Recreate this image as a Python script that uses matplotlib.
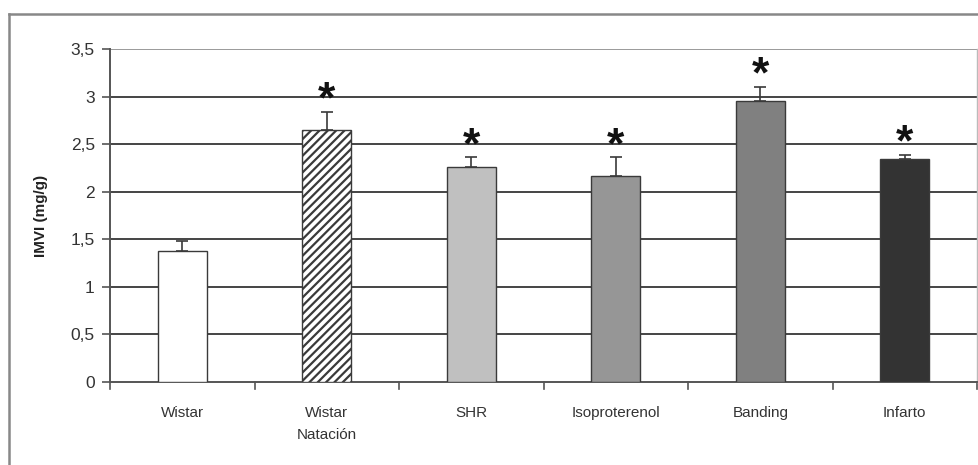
import matplotlib
matplotlib.use("Agg")
import matplotlib.pyplot as plt
from matplotlib.lines import Line2D

plt.rcParams['font.family'] = ['Liberation Sans', 'DejaVu Sans']
plt.rcParams['hatch.linewidth'] = 1.6

categories = ["Wistar", "Wistar\nNatación", "SHR", "Isoproterenol", "Banding", "Infarto"]
values = [1.38, 2.65, 2.26, 2.17, 2.95, 2.34]
errors = [0.10, 0.19, 0.10, 0.19, 0.15, 0.05]
significant = [False, True, True, True, True, True]
colors = ["#ffffff", "#ffffff", "#c0c0c0", "#969696", "#808080", "#333333"]
hatches = ["", "////", "", "", "", ""]
yticks = [0, 0.5, 1, 1.5, 2, 2.5, 3, 3.5]
ytick_labels = ["0", "0,5", "1", "1,5", "2", "2,5", "3", "3,5"]

fig = plt.figure(figsize=(9.79, 4.65), dpi=100)
ax = fig.add_axes([0.1124, 0.1785, 0.8856, 0.7161])

x = list(range(len(categories)))
ax.set_xlim(-0.5, len(categories) - 0.5)
ax.set_ylim(0, 3.5)

for yt in yticks[1:]:
    ax.axhline(yt, color="#444444" if yt < 3.5 else "#9a9a9a", lw=1.4, zorder=1)

for i in x:
    ax.bar(i, values[i], width=0.34, color=colors[i], edgecolor="#3a3a3a",
           linewidth=1.0, hatch=hatches[i], zorder=3)
    ax.errorbar(i, values[i], yerr=[[0], [errors[i]]], fmt="none",
                ecolor="#3a3a3a", elinewidth=1.2, capsize=4, capthick=1.2, zorder=4)
    if significant[i]:
        ax.text(i, values[i] + errors[i] - 0.10, "*", ha="center", va="bottom",
                fontsize=32, fontweight="bold", color="#111111", zorder=5)

ax.set_yticks(yticks)
ax.set_yticklabels(ytick_labels, fontsize=12.5, color="#333333")
ax.set_xticks(x)
ax.set_xticklabels(categories, fontsize=11, color="#333333", linespacing=1.75)
ax.tick_params(axis="x", length=0, pad=17)
ax.tick_params(axis="y", length=6, width=1.2, color="#555555", pad=5)

# category boundary ticks
for b in [i + 0.5 for i in x[:-1]] + [-0.5, len(categories) - 0.5]:
    ax.plot([b, b], [0, -0.07], color="#555555", lw=1.2, clip_on=False, zorder=2)

ax.spines["top"].set_visible(False)
ax.spines["right"].set_color("#bbbbbb")
ax.spines["right"].set_linewidth(1.0)
ax.spines["left"].set_color("#555555")
ax.spines["left"].set_linewidth(1.4)
ax.spines["bottom"].set_color("#555555")
ax.spines["bottom"].set_linewidth(1.4)

ax.set_ylabel("IMVI (mg/g)", fontsize=11, fontweight="bold", labelpad=16, color="#222222")

# outer chart frame
fig.add_artist(Line2D([9 / 979, 9 / 979], [0, 1 - 14 / 465], color="#888888", lw=1.8,
                      transform=fig.transFigure))
fig.add_artist(Line2D([9 / 979, 1.0], [1 - 14 / 465, 1 - 14 / 465], color="#888888", lw=1.8,
                      transform=fig.transFigure))

fig.savefig("out.png", dpi=100, facecolor="white")
